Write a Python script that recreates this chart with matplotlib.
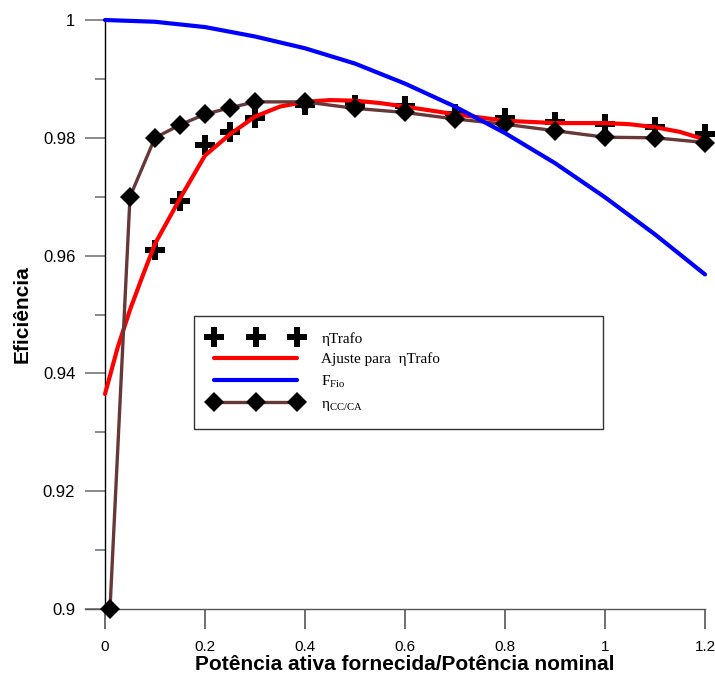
import matplotlib
matplotlib.use("Agg")
import matplotlib.pyplot as plt
from matplotlib.ticker import MultipleLocator, FuncFormatter

# ---- data ----
trafo_x = [0.1, 0.15, 0.2, 0.25, 0.3, 0.4, 0.5, 0.6, 0.7, 0.8, 0.9, 1.0, 1.1, 1.2]
trafo_eta = [0.961, 0.9693, 0.9788, 0.981, 0.9834, 0.9855, 0.9856, 0.9854, 0.9840,
             0.9834, 0.9827, 0.9824, 0.9818, 0.9806]

fit_x = [0.0, 0.025, 0.05, 0.075, 0.1, 0.15, 0.2, 0.25, 0.3, 0.35, 0.4, 0.45, 0.5, 0.55,
         0.6, 0.7, 0.8, 0.9, 1.0, 1.05, 1.1, 1.15, 1.2]
fit_eta = [0.9365, 0.9443, 0.9508, 0.9565, 0.9620, 0.9697, 0.9770, 0.9806, 0.9836, 0.9853,
           0.9861, 0.9864, 0.9863, 0.9859, 0.9853, 0.9840, 0.9829, 0.9825, 0.9825,
           0.9823, 0.9818, 0.9810, 0.9797]

fio_x = [0.0, 0.1, 0.2, 0.3, 0.4, 0.5, 0.6, 0.7, 0.8, 0.9, 1.0, 1.1, 1.2]
fio_f = [1.0, 0.9997, 0.9988, 0.9972, 0.9952, 0.9926, 0.9892, 0.9853, 0.9808, 0.9757,
         0.9699, 0.9636, 0.9568]

cc_x = [0.01, 0.05, 0.1, 0.15, 0.2, 0.25, 0.3, 0.4, 0.5, 0.6, 0.7, 0.8, 0.9, 1.0, 1.1, 1.2]
cc_eta = [0.900, 0.970, 0.980, 0.9822, 0.984, 0.9851, 0.9861, 0.9861, 0.9850, 0.9843,
          0.9832, 0.9823, 0.9812, 0.9801, 0.9800, 0.9792]

labels = ["ηTrafo", "Ajuste para  ηTrafo", r"F$_{\mathrm{Fio}}$", r"η$_{\mathrm{CC/CA}}$"]

# ---- style ----
plt.rcParams['font.family'] = ['Liberation Sans', 'DejaVu Sans']
plt.rcParams['mathtext.fontset'] = 'custom'
plt.rcParams['mathtext.rm'] = 'Liberation Serif'

fig = plt.figure(figsize=(7.15, 6.79), dpi=100)
ax = fig.add_axes([105 / 715, 1 - 609 / 679, 600 / 715, 589 / 679])

brown = '#663838'
l1, = ax.plot(trafo_x, trafo_eta, linestyle='none', marker='P', markersize=15,
              color='black', markeredgewidth=0, zorder=3, clip_on=False)
l2, = ax.plot(fit_x, fit_eta, color='#ff0000', lw=3.0, zorder=4, clip_on=False,
              solid_capstyle='round')
l4, = ax.plot(cc_x, cc_eta, color=brown, lw=2.4, marker='D', markersize=10.5,
              markerfacecolor='black', markeredgecolor='black', markeredgewidth=0,
              zorder=5, clip_on=False)
l3, = ax.plot(fio_x, fio_f, color='#0000ff', lw=3.0, zorder=6, clip_on=False,
              solid_capstyle='round')

ax.set_xlim(0, 1.2)
ax.set_ylim(0.9, 1.0)

for s in ['top', 'right']:
    ax.spines[s].set_visible(False)
ax.spines['left'].set_color('black')
ax.spines['left'].set_linewidth(1.0)
ax.spines['bottom'].set_color('#555555')
ax.spines['bottom'].set_linewidth(1.0)
ax.spines['bottom'].set_bounds(-0.04, 1.2)

ax.xaxis.set_major_locator(MultipleLocator(0.2))
ax.yaxis.set_major_locator(MultipleLocator(0.02))
ax.yaxis.set_minor_locator(MultipleLocator(0.01))
fmt = FuncFormatter(lambda v, p: ('%g' % round(v, 4)))
ax.xaxis.set_major_formatter(fmt)
ax.yaxis.set_major_formatter(fmt)

ax.tick_params(axis='y', which='major', direction='out', length=14.4, width=1.2,
               color='#777777', pad=7, labelsize=12)
ax.tick_params(axis='y', which='minor', direction='out', length=7.2, width=1.2,
               color='#777777')
ax.tick_params(axis='x', which='major', direction='out', length=14.4, width=1.2,
               color='#555555', pad=8, labelsize=11)

ax.set_xlabel('Potência ativa fornecida/Potência nominal', fontsize=15,
              fontweight='bold', labelpad=1)
ax.set_ylabel('Eficiência', fontsize=15, fontweight='bold', labelpad=8)

leg = ax.legend([l1, l2, l3, l4], labels, loc='upper left',
                bbox_to_anchor=(0.148, 0.307, 0.682, 0.1905), mode='expand',
                numpoints=3, handlelength=6.0, handletextpad=1.3, borderpad=1.05,
                labelspacing=0.45, fancybox=False, framealpha=1,
                prop={'family': 'Liberation Serif', 'size': 11}, borderaxespad=0)
leg.get_frame().set_edgecolor('#333333')
leg.get_frame().set_linewidth(1.0)
leg.set_zorder(10)

fig.savefig('out.png', dpi=100, facecolor='white')
